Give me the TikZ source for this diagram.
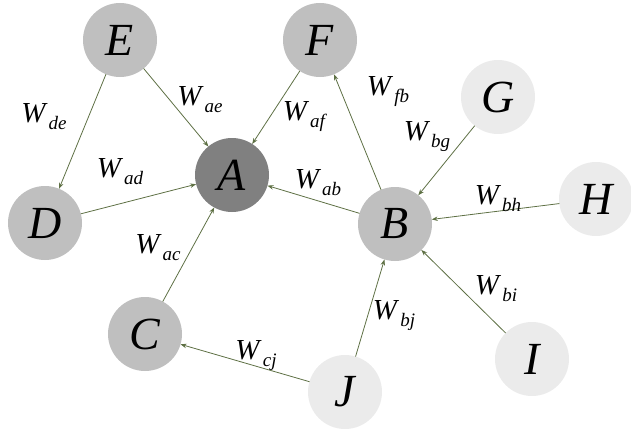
\documentclass[tikz,border=0pt]{standalone}
\usepackage{fontspec}
\setmainfont{LiberationSerif-Regular.ttf}[ItalicFont=LiberationSerif-Italic.ttf]
\usetikzlibrary{arrows.meta}

\definecolor{edgegreen}{RGB}{94,112,68}
\definecolor{darknode}{RGB}{128,128,128}
\definecolor{midnode}{RGB}{191,191,191}
\definecolor{lightnode}{RGB}{235,235,235}

% weight label: italic W with a lowered italic index
\newcommand{\wlab}[1]{\textit{W}\kern1pt\raisebox{-7pt}{\fontsize{19}{19}\selectfont\textit{#1}}}

\begin{document}
\begin{tikzpicture}[x=1pt, y=-1pt]

\tikzstyle{vertex} 	= [circle, minimum size=74pt, inner sep=0pt, outer sep=0pt, font=\fontsize{46}{46}\selectfont\itshape] % define node circle
\tikzstyle{core} 	= [vertex, fill=darknode]
\tikzstyle{near} 	= [vertex, fill=midnode]
\tikzstyle{far} 	= [vertex, fill=lightnode]
\tikzstyle{arrow} 	= [color=edgegreen, line width=0.8pt, -{Stealth[length=6pt, width=4.5pt]}] % define standard arrow
\tikzstyle{weight} 	= [inner sep=0pt, font=\fontsize{29}{29}\selectfont]

\useasboundingbox (0,0) rectangle (631,428);

% central node A and its neighbours
\node(A)[core] at (232,175){A};
\node(E)[near] at (120,40){E};
\node(F)[near] at (320,40){F};
\node(D)[near] at (45,223){D};
\node(C)[near] at (145,334){C};
\node(B)[near] at (395,224){B};

% outer nodes
\node(G)[far] at (498,97){G};
\node(H)[far] at (596,199){H};
\node(I)[far] at (532,359){I};
\node(J)[far] at (345,392){J};

% arrows
\draw[arrow](E)--(D);
\draw[arrow](E)--(A);
\draw[arrow](D)--(A);
\draw[arrow](F)--(A);
\draw[arrow](C)--(A);
\draw[arrow](B)--(A);
\draw[arrow](B)--(F);
\draw[arrow](G)--(B);
\draw[arrow](H)--(B);
\draw[arrow](I)--(B);
\draw[arrow](J)--(B);
\draw[arrow](J)--(C);

% weights
\node(wde)[weight] at (44,117){\wlab{de}};
\node(wae)[weight] at (200,100){\wlab{ae}};
\node(wad)[weight] at (120,172){\wlab{ad}};
\node(waf)[weight] at (305,117){\wlab{af}};
\node(wfb)[weight] at (388,92){\wlab{fb}};
\node(wbg)[weight] at (427,137){\wlab{bg}};
\node(wab)[weight] at (318,183){\wlab{ab}};
\node(wbh)[weight] at (498,199){\wlab{bh}};
\node(wbi)[weight] at (496,289){\wlab{bi}};
\node(wbj)[weight] at (394,316){\wlab{bj}};
\node(wac)[weight] at (158,248){\wlab{ac}};
\node(wcj)[weight] at (256,356){\wlab{cj}};

\end{tikzpicture}
\end{document}
